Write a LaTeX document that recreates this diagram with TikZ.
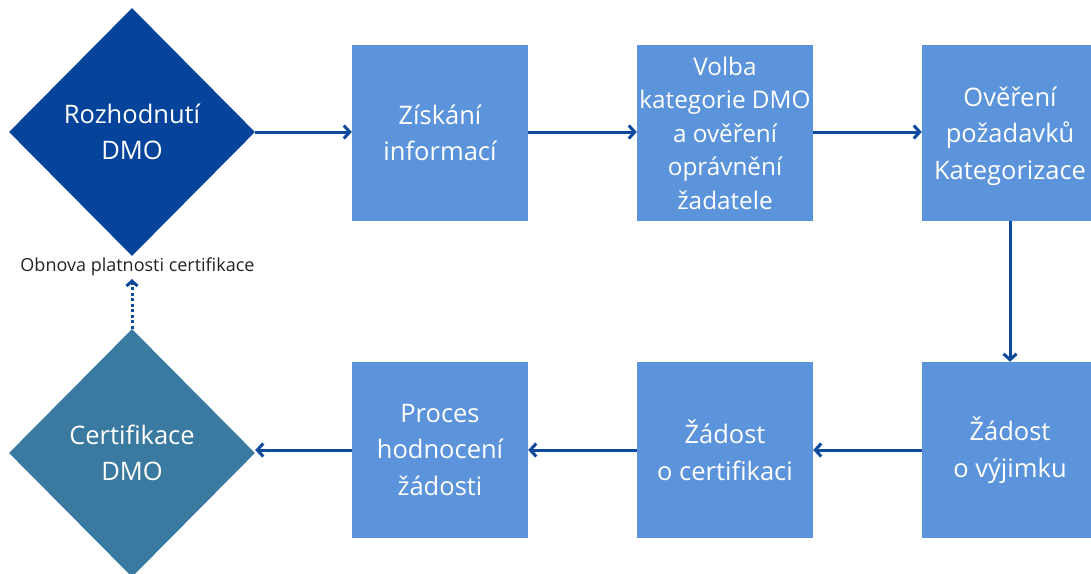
\documentclass[tikz,border=0pt]{standalone}
\usepackage{fontspec}
\setmainfont{Open Sans}
\usetikzlibrary{shapes.geometric,arrows.meta}
\definecolor{dmoblue}{HTML}{05449A}
\definecolor{boxblue}{HTML}{5B94DB}
\definecolor{certteal}{HTML}{3B7AA0}
\definecolor{arrowblue}{HTML}{0D4A9E}
\definecolor{labeltext}{HTML}{222222}
\begin{document}
\begin{tikzpicture}[x=1pt,y=-1pt,
  stepbox/.style={rectangle,fill=boxblue,minimum width=176pt,minimum height=176pt,inner sep=0pt,
    text=white,align=center,font=\fontsize{25.5}{36.5}\selectfont},
  decision/.style={diamond,minimum width=246pt,minimum height=248pt,inner sep=0pt,
    text=white,align=center,font=\fontsize{25.5}{36.5}\selectfont},
  flow/.style={draw=arrowblue,line width=3pt,-{Straight Barb[length=6pt,width=13pt]}},
  renew/.style={draw=arrowblue,line width=3pt,dash pattern=on 3pt off 2.5pt,
    -{Straight Barb[length=5pt,width=11pt]}}
]
\useasboundingbox (0,0) rectangle (1091,573);
\node[decision,fill=dmoblue] (decide) at (132,132) {Rozhodnutí\\DMO};
\node[stepbox] (info) at (440,133) {Získání\\informací};
\node[stepbox,font=\fontsize{24.3}{33.5}\selectfont] (cat) at (725,133) {Volba\\kategorie DMO\\a ověření\\oprávnění\\žadatele};
\node[stepbox,text depth=0pt] (verify) at (1010,133) {Ověření\\požadavků\\Kategorizace};
\node[stepbox] (exempt) at (1010,450) {Žádost\\o výjimku};
\node[stepbox] (apply) at (725,450) {Žádost\\o certifikaci};
\node[stepbox] (eval) at (440,450) {Proces\\hodnocení\\žádosti};
\node[decision,fill=certteal] (cert) at (132,453) {Certifikace\\DMO};
\node[text=labeltext,font=\fontsize{18}{22}\selectfont,inner sep=0pt] (renewlbl) at (137.5,267) {Obnova platnosti certifikace};
\coordinate (renewend) at (132,279);

\draw[flow] (decide.east) -- (info.west |- decide.east);
\draw[flow] (info.east |- decide.east) -- (cat.west |- decide.east);
\draw[flow] (cat.east |- decide.east) -- (verify.west |- decide.east);
\draw[flow] (verify.south) -- (exempt.north);
\draw[flow] (exempt.west) -- (apply.east);
\draw[flow] (apply.west) -- (eval.east);
\draw[flow] (eval.west) -- (cert.east |- eval.west);
\draw[renew] (cert.north) -- (renewend);
\end{tikzpicture}
\end{document}
